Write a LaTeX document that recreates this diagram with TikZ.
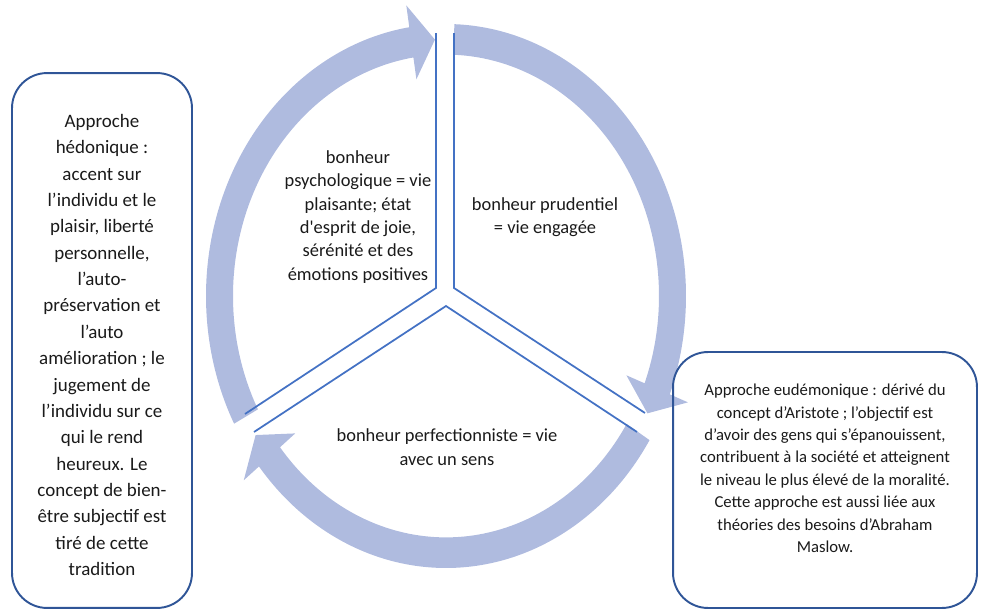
\documentclass[tikz,border=0pt]{standalone}
\usepackage{fontspec}
\setmainfont{Carlito}
\usepackage{xcolor}
\definecolor{ringfill}{HTML}{AFBBDF}
\definecolor{sepline}{HTML}{4472C4}
\definecolor{boxline}{HTML}{2F5597}
\definecolor{txt}{HTML}{1A1A1A}
\newcommand{\rOut}{240}
\newcommand{\rIn}{213}
\newcommand{\rMid}{226.5}
\newcommand{\headHalf}{33}
\newcommand{\headLen}{6}

\begin{document}
\begin{tikzpicture}[x=0.02cm, y=0.02cm,
	approche/.style={draw=boxline, line width=1.1pt, rounded corners=0.7cm},
	sector/.style={draw=sepline, line width=1pt},
	label/.style={text=txt, align=center, font=\fontsize{10.5}{13.3}\selectfont}]
	\useasboundingbox (0,0) rectangle (981,610);
	% cycle arrows
	\begin{scope}[shift={(446,314)}, yscale=1.1333]
		\foreach \tail/\tip in {208/92.8, 88/-27.2, 328/212.8}{
			\pgfmathsetmacro{\back}{\tip+\headLen}
			\fill[ringfill] (\tail:\rOut) arc[start angle=\tail, end angle=\back, radius=\rOut]
				-- (\back:{\rMid+\headHalf}) -- (\tip:\rMid) -- (\back:{\rMid-\headHalf})
				-- (\back:\rIn) arc[start angle=\back, end angle=\tail, radius=\rIn] -- cycle;
		}
	\end{scope}
	% gaps between the three parts
	\coordinate (topL) at (436,577);
	\coordinate (hubL) at (436,322);
	\coordinate (endL) at (245,196);
	\coordinate (begB) at (254,178);
	\coordinate (hubB) at (446,304);
	\coordinate (endB) at (637,178);
	\coordinate (topR) at (454,577);
	\coordinate (hubR) at (454,322);
	\coordinate (endR) at (645,197);
	\draw[sector] (topL) -- (hubL) -- (endL);
	\draw[sector] (begB) -- (hubB) -- (endB);
	\draw[sector] (topR) -- (hubR) -- (endR);
	\node[label] (psycho) at (358,393) {bonheur\\psychologique = vie\\plaisante; état\\d\textquotesingle esprit de joie,\\sérénité et des\\émotions positives};
	\node[label] (prudent) at (545,393) {bonheur prudentiel\\= vie engagée};
	\node[label] (perfect) at (447,163) {bonheur perfectionniste = vie\\avec un sens};
	% side boxes
	\node[approche, minimum width=3.6cm, minimum height=10.7cm] (hedoBox) at (102,269.5) {};
	\node[label, font=\fontsize{10.8}{15}\selectfont] (hedoText) at (102,265) {Approche\\hédonique :\\accent sur\\l’individu et le\\plaisir, liberté\\personnelle,\\l’auto-\\préservation et\\l’auto\\amélioration ; le\\jugement de\\l’individu sur ce\\qui le rend\\heureux. Le\\concept de bien-\\être subjectif est\\tiré de cette\\tradition};
	\node[approche, minimum width=6.08cm, minimum height=5.12cm] (eudBox) at (825,130) {};
	\node[label, font=\fontsize{9.5}{12.8}\selectfont] (eudText) at (825,141.5) {Approche eudémonique : dérivé du\\concept d’Aristote ; l’objectif est\\d’avoir des gens qui s’épanouissent,\\contribuent à la société et atteignent\\le niveau le plus élevé de la moralité.\\Cette approche est aussi liée aux\\théories des besoins d’Abraham\\Maslow.};
\end{tikzpicture}
\end{document}
